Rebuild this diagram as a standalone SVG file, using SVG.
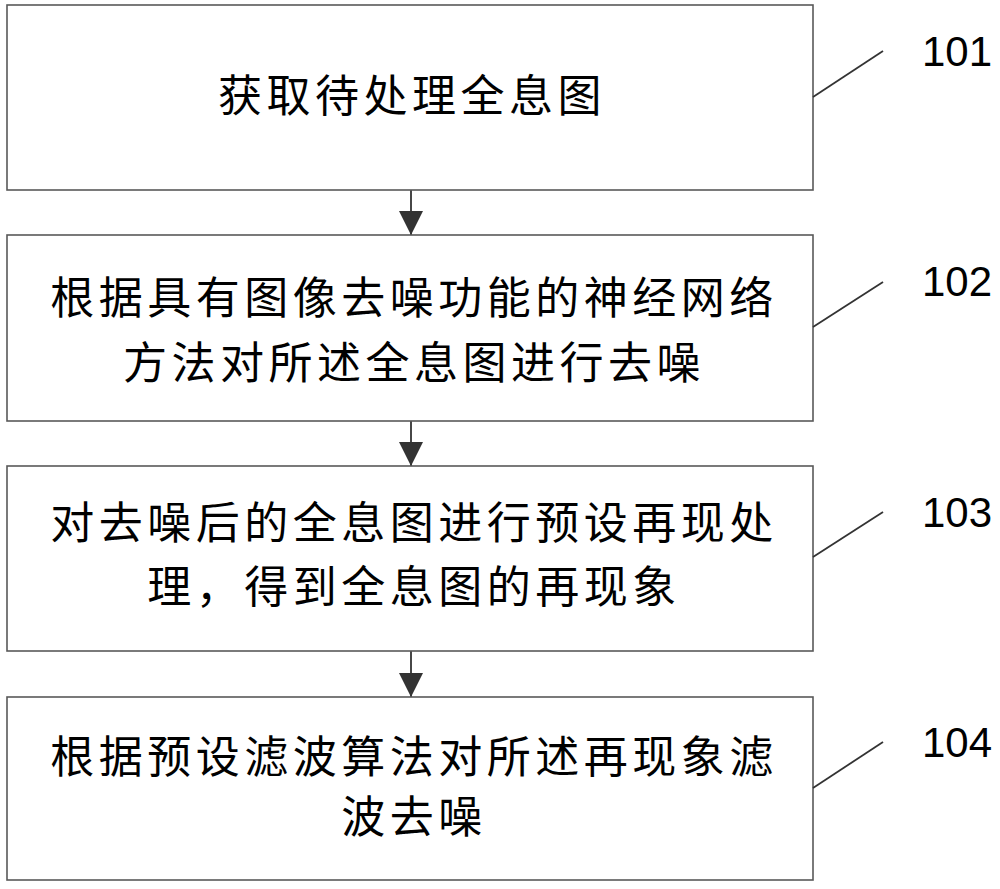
<svg xmlns="http://www.w3.org/2000/svg" width="1000" height="889" viewBox="0 0 1000 889">
<style>
.box{fill:#fff;stroke:#595959;stroke-width:1.6}
.t{font-family:"Noto Sans CJK SC","Noto Sans",sans-serif;font-size:44px;fill:#000;text-anchor:middle;letter-spacing:4.5px}
.n{font-family:"Liberation Sans",Arial,sans-serif;font-size:42px;fill:#000}
.lead{stroke:#333;stroke-width:1.8;fill:none}
.conn{stroke:#333;stroke-width:1.8;fill:none}
</style>
<defs>
<marker id="ah" markerUnits="userSpaceOnUse" markerWidth="26" markerHeight="26" viewBox="0 0 26 26" refX="25" refY="13" orient="auto">
<path d="M1,1 L25,13 L1,25 Z" fill="#333"/>
</marker>
</defs>
<rect width="1000" height="889" fill="#fff"/>
<g id="connectors">
<line class="conn" x1="411" y1="190" x2="411" y2="235" marker-end="url(#ah)"/>
<line class="conn" x1="411" y1="421" x2="411" y2="466" marker-end="url(#ah)"/>
<line class="conn" x1="411" y1="651" x2="411" y2="697" marker-end="url(#ah)"/>
</g>
<g id="step101">
<rect class="box" x="7" y="5" width="806" height="185"/>
<text class="t" x="412" y="112">获取待处理全息图</text>
<line class="lead" x1="813" y1="97" x2="883" y2="51"/>
<text class="n" x="922" y="66">101</text>
</g>
<g id="step102">
<rect class="box" x="7" y="235" width="806" height="186"/>
<text class="t" x="414" y="314">根据具有图像去噪功能的神经网络</text>
<text class="t" x="414" y="379">方法对所述全息图进行去噪</text>
<line class="lead" x1="813" y1="327" x2="883" y2="282"/>
<text class="n" x="922" y="296">102</text>
</g>
<g id="step103">
<rect class="box" x="7" y="466" width="806" height="185"/>
<text class="t" x="414" y="539">对去噪后的全息图进行预设再现处</text>
<text class="t" x="414" y="603">理，得到全息图的再现象</text>
<line class="lead" x1="813" y1="557" x2="883" y2="512"/>
<text class="n" x="922" y="527">103</text>
</g>
<g id="step104">
<rect class="box" x="7" y="697" width="806" height="183"/>
<text class="t" x="414" y="773">根据预设滤波算法对所述再现象滤</text>
<text class="t" x="414" y="833">波去噪</text>
<line class="lead" x1="813" y1="788" x2="883" y2="742"/>
<text class="n" x="922" y="757">104</text>
</g>
</svg>
